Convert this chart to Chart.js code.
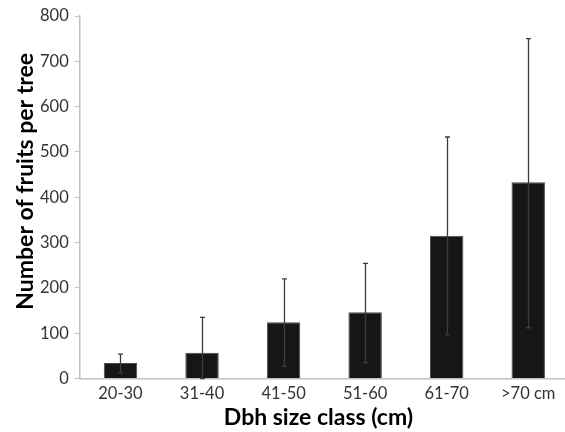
<!DOCTYPE html>
<html>
<head>
<meta charset="utf-8">
<script src="https://cdn.jsdelivr.net/npm/chart.js@4"></script>
<style>
  html, body { margin: 0; padding: 0; background: #fff; overflow: hidden; }
  #wrap { width: 569px; height: 432px; }
</style>
</head>
<body>
<div id="wrap"><canvas id="c"></canvas></div>
<script>
const classes = ['20-30', '31-40', '41-50', '51-60', '61-70', '>70 cm'];
const fruits  = [34, 57, 124, 146, 315, 433];
const errLow  = [13, 0, 27, 35, 97, 112];
const errHigh = [54, 135, 220, 254, 533, 750];
const xTitle = 'Dbh size class (cm)';
const yTitle = 'Number of fruits per tree';
const titleFont = 'bold 23px Lato';

// whiskers drawn through the chart's own scales
const errorBars = {
  id: 'errorBars',
  afterDatasetsDraw(chart) {
    const { ctx, scales: { x, y } } = chart;
    ctx.save();
    ctx.strokeStyle = '#3c3c3c';
    ctx.lineWidth = 1.3;
    classes.forEach((c, i) => {
      const px = Math.round(x.getPixelForValue(i)) + 0.5;
      const top = y.getPixelForValue(errHigh[i]);
      const bot = y.getPixelForValue(errLow[i]);
      ctx.beginPath();
      ctx.moveTo(px, top); ctx.lineTo(px, bot);
      ctx.moveTo(px - 2.5, top); ctx.lineTo(px + 2.5, top);
      ctx.moveTo(px - 2.5, bot); ctx.lineTo(px + 2.5, bot);
      ctx.stroke();
    });
    ctx.restore();
  }
};

// axis titles sit a bit off-centre in the original, so place them by hand
const axisTitles = {
  id: 'axisTitles',
  afterDraw(chart) {
    const { ctx, chartArea: a } = chart;
    ctx.save();
    ctx.fillStyle = '#000';
    ctx.font = titleFont;
    ctx.textAlign = 'center';
    ctx.textBaseline = 'middle';
    ctx.fillText(xTitle, a.left + (a.right - a.left) * 0.488, 418);
    ctx.translate(26, a.top + (a.bottom - a.top) * 0.456);
    ctx.rotate(-Math.PI / 2);
    ctx.fillText(yTitle, 0, 0);
    ctx.restore();
  }
};

new Chart(document.getElementById('c'), {
  type: 'bar',
  data: {
    labels: classes,
    datasets: [{
      data: fruits,
      backgroundColor: '#161616',
      borderColor: '#4a4a4a',
      borderWidth: 1,
      barPercentage: 0.41,
      categoryPercentage: 1
    }]
  },
  options: {
    animation: false, responsive: true, maintainAspectRatio: false,
    layout: { padding: { top: 16, right: 0, bottom: 23, left: 34 } },
    plugins: { legend: { display: false }, tooltip: { enabled: false } },
    scales: {
      x: {
        grid: { display: false, drawTicks: false },
        border: { color: '#bfbfbf', width: 1.5 },
        ticks: { color: '#333', font: { family: 'Lato', size: 16.5, lineHeight: 1 }, padding: 7 }
      },
      y: {
        min: 0, max: 800,
        grid: { drawOnChartArea: false, drawTicks: true, tickLength: 5, color: '#bfbfbf' },
        border: { color: '#bfbfbf', width: 1.5 },
        ticks: { stepSize: 100, color: '#333', font: { family: 'Lato', size: 16.5 }, padding: 6 }
      }
    }
  },
  plugins: [errorBars, axisTitles]
});
</script>
</body>
</html>
